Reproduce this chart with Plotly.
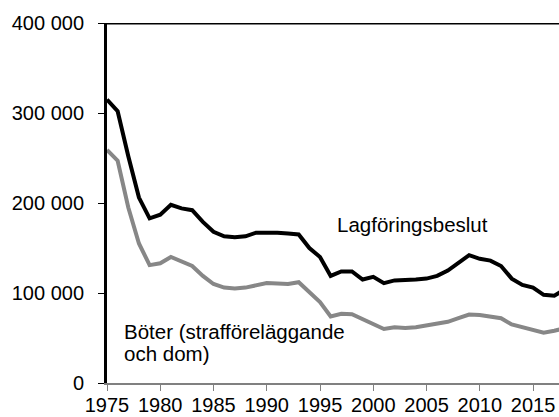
import plotly.graph_objects as go

years = list(range(1975, 2019))
lagforingsbeslut = [315000, 302000, 252000, 206000, 183000, 187000, 198000, 194000, 192000, 179000,
                    168000, 163000, 162000, 163000, 167000, 167500, 167000, 166000, 165000, 150000,
                    140000, 119000, 124000, 124000, 115000, 118000, 111000, 114000, 114000, 115000,
                    116000, 119000, 125000, 134000, 142000, 138000, 136000, 130000, 116000, 109000,
                    106000, 98000, 97000, 104000]
boter = [259000, 247000, 195000, 155000, 131000, 133000, 140000, 135000, 130000, 119000,
         110000, 106000, 105000, 106000, 109000, 111000, 110500, 110000, 112000, 101000,
         90000, 74000, 77000, 76500, 71000, 66000, 60000, 62000, 61000, 62000,
         64000, 66000, 68000, 72000, 76000, 75500, 74000, 72000, 65000, 62000,
         60000, 56000, 58000, 61000]

y_tickvals = [0, 100000, 200000, 300000, 400000]
y_ticktext = ["0", "100 000", "200 000", "300 000", "400 000"]
x_tickvals = [1975, 1980, 1985, 1990, 1995, 2000, 2005, 2010, 2015]

FONT = "Liberation Sans, Arial, sans-serif"

fig = go.Figure()
fig.add_trace(go.Scatter(x=years, y=boter, mode="lines",
                         line=dict(color="#878787", width=4), showlegend=False,
                         hoverinfo="skip"))
fig.add_trace(go.Scatter(x=years, y=lagforingsbeslut, mode="lines",
                         line=dict(color="#000000", width=4), showlegend=False,
                         hoverinfo="skip"))

fig.update_layout(
    width=559, height=417,
    margin=dict(l=107, r=0, t=23, b=34),
    paper_bgcolor="white", plot_bgcolor="white",
    font=dict(family=FONT, size=20, color="black"),
    xaxis=dict(range=[1975, 2017.44], tickvals=x_tickvals, showgrid=False, zeroline=False,
               showline=True, linecolor="#808080", linewidth=2,
               ticks="outside", ticklen=6, tickcolor="#808080", tickwidth=1,
               tickfont=dict(size=20), automargin=False, ticklabelstandoff=-3),
    yaxis=dict(range=[0, 400000], tickvals=y_tickvals, ticktext=y_ticktext,
               showgrid=False, zeroline=False,
               showline=True, linecolor="black", linewidth=3,
               ticks="outside", ticklen=6, tickcolor="black", tickwidth=1,
               tickfont=dict(size=20), automargin=False, ticklabelstandoff=10),
    shapes=[dict(type="line", xref="paper", yref="y", x0=0, x1=1, y0=400000, y1=400000,
                 line=dict(color="black", width=3))],
    annotations=[
        dict(x=2003.7, y=176000, text="Lagföringsbeslut", showarrow=False,
             xanchor="center", yanchor="middle", font=dict(size=20.5)),
        dict(x=1976.4, y=56700, text="Böter (strafföreläggande", showarrow=False,
             xanchor="left", yanchor="middle", font=dict(size=20.5)),
        dict(x=1976.4, y=33200, text="och dom)", showarrow=False,
             xanchor="left", yanchor="middle", font=dict(size=20.5)),
    ],
)

fig.write_html("out.html", config={"displayModeBar": False},
               post_script="document.body.style.margin='0';")
